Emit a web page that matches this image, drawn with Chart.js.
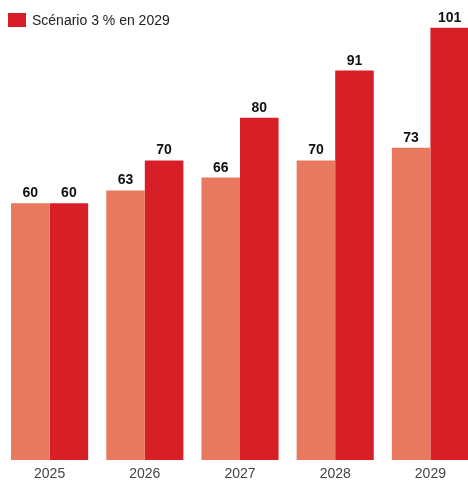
<!DOCTYPE html>
<html>
<head>
<meta charset="utf-8">
<script src="https://cdn.jsdelivr.net/npm/chart.js@4"></script>
<style>
    html, body { margin: 0; padding: 0; background: #fff; overflow: hidden; }
    #wrap { position: absolute; left: 0; top: 0; width: 478px; height: 488px; }
    #legend { position: absolute; left: 8px; top: 13px; height: 14px; font: 14px "Liberation Sans", Arial, sans-serif; color: #222; display: flex; align-items: center; }
    #legend span.box { display: inline-block; width: 18px; height: 14px; background: #d81e27; margin-right: 6px; }
</style>
</head>
<body>
<div id="wrap"><canvas id="chart"></canvas></div>
<div id="legend"><span class="box"></span>Scénario 3 % en 2029</div>
<script>
const years = ["2025", "2026", "2027", "2028", "2029"];
const baseValues = [60, 63, 66, 70, 73];
const scenarioValues = [60, 70, 80, 91, 101];

const lightRed = "#e8795f";
const darkRed = "#d81e27";

// draws value above each bar
const valueLabels = {
    id: "valueLabels",
    afterDatasetsDraw(chart) {
        const ctx = chart.ctx;
        ctx.save();
        ctx.font = "bold 14px 'Liberation Sans', Arial, sans-serif";
        ctx.fillStyle = "#111";
        ctx.textAlign = "center";
        ctx.textBaseline = "alphabetic";
        chart.data.datasets.forEach((ds, i) => {
            chart.getDatasetMeta(i).data.forEach((bar, j) => {
                ctx.fillText(ds.data[j], bar.x, bar.y - 6);
            });
        });
        ctx.restore();
    }
};

new Chart(document.getElementById("chart"), {
    type: "bar",
    data: {
        labels: years,
        datasets: [
            { label: "Base", data: baseValues, backgroundColor: lightRed },
            { label: "Scénario 3 % en 2029", data: scenarioValues, backgroundColor: darkRed }
        ]
    },
    options: {
        responsive: true,
        maintainAspectRatio: false,
        animation: false,
        layout: { padding: { left: 2, right: 0, top: 0, bottom: 0 } },
        datasets: { bar: { barPercentage: 1, categoryPercentage: 0.81 } },
        plugins: { legend: { display: false }, tooltip: { enabled: false } },
        scales: {
            x: {
                grid: { display: false, drawTicks: false },
                border: { display: false },
                ticks: { color: "#444", font: { size: 14, lineHeight: 1, family: "'Liberation Sans', Arial, sans-serif" }, padding: 7 }
            },
            y: { display: false, min: 0, max: 107.5 }
        }
    },
    plugins: [valueLabels]
});
</script>
</body>
</html>
